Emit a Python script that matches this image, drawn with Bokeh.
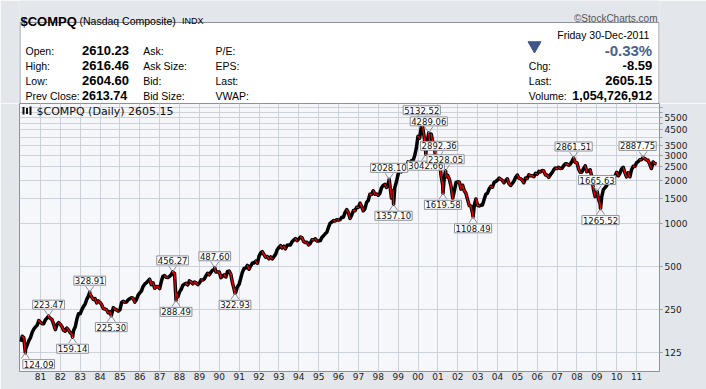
import numpy as np
import pandas as pd
from bokeh.plotting import figure
from bokeh.models import Range1d, FixedTicker, Label
from bokeh.layouts import column
from bokeh.embed import file_html
from bokeh.resources import INLINE

# ---------------- data (monthly closes) ----------------
c1980 = [161.75, 158.03, 131.00, 139.99, 150.45, 157.78, 171.81, 181.52, 187.76, 192.78, 208.15, 202.34]
c1981 = [197.81, 198.01, 210.18, 216.74, 221.80, 215.75, 211.63, 195.75, 180.03, 195.24, 201.37, 195.84]
c1982 = [188.39, 178.35, 175.65, 184.70, 178.54, 171.30, 167.35, 177.71, 187.65, 212.63, 232.31, 232.41]
c1983 = [248.35, 260.67, 270.80, 293.06, 308.73, 318.70, 303.96, 292.42, 296.65, 276.95, 285.67, 278.60]
c1984 = [268.43, 252.57, 250.78, 247.44, 235.90, 239.65, 230.49, 255.94, 249.94, 247.03, 242.53, 247.35]
c1985 = [278.70, 284.17, 279.20, 280.56, 290.80, 296.20, 301.29, 297.71, 280.33, 292.54, 313.95, 324.93]
c1986 = [335.77, 359.53, 374.72, 383.24, 394.41, 405.51, 371.37, 382.86, 350.67, 360.77, 359.57, 348.83]
c1987 = [392.06, 424.97, 430.05, 417.81, 416.54, 424.67, 434.93, 454.57, 444.29, 323.30, 305.16, 330.47]
c1988 = [344.66, 366.95, 374.64, 379.23, 370.34, 394.66, 387.33, 376.55, 387.71, 382.46, 371.45, 381.38]
c1989 = [401.30, 399.71, 406.73, 427.55, 446.17, 435.29, 453.84, 469.33, 472.92, 455.63, 456.09, 454.82]
c1990 = [415.81, 425.83, 435.54, 420.07, 458.97, 462.29, 438.24, 381.21, 344.51, 329.84, 359.06, 373.84]
c1991 = [414.20, 453.05, 482.30, 484.72, 506.11, 475.92, 502.04, 525.68, 526.88, 542.98, 523.90, 586.34]
c1992 = [620.21, 633.47, 603.77, 578.68, 585.31, 563.60, 580.83, 563.12, 583.27, 605.17, 652.73, 676.95]
c1993 = [696.34, 670.77, 690.13, 661.42, 700.53, 703.95, 704.70, 742.84, 762.78, 779.26, 754.39, 776.80]
c1994 = [800.47, 792.50, 743.46, 733.84, 735.19, 705.96, 722.16, 765.62, 764.29, 777.49, 750.32, 751.96]
c1995 = [755.20, 793.73, 817.21, 843.98, 864.58, 933.45, 1001.21, 1020.11, 1043.54, 1036.06, 1059.20, 1052.13]
c1996 = [1059.79, 1100.05, 1101.40, 1190.52, 1243.43, 1185.02, 1080.59, 1141.50, 1226.92, 1221.51, 1292.61, 1291.03]
c1997 = [1379.85, 1309.00, 1221.70, 1260.76, 1400.32, 1442.07, 1593.81, 1587.32, 1685.69, 1593.61, 1600.55, 1570.35]
c1998 = [1619.36, 1770.51, 1835.68, 1868.41, 1778.87, 1894.74, 1872.39, 1499.25, 1693.84, 1771.39, 1949.54, 2192.69]
c1999 = [2505.89, 2288.03, 2461.40, 2542.85, 2470.52, 2686.12, 2638.49, 2739.35, 2746.16, 2966.43, 3336.16, 4069.31]
c2000 = [3940.35, 4696.69, 4572.83, 3860.66, 3400.91, 3966.11, 3766.99, 4206.35, 3672.82, 3369.63, 2597.93, 2470.52]
c2001 = [2772.73, 2151.83, 1840.26, 2116.24, 2110.49, 2160.54, 2027.13, 1805.43, 1498.80, 1690.20, 1930.58, 1950.40]
c2002 = [1934.03, 1731.49, 1845.35, 1688.23, 1615.73, 1463.21, 1328.26, 1314.85, 1172.06, 1329.75, 1478.78, 1335.51]
c2003 = [1320.91, 1337.52, 1341.17, 1464.31, 1595.91, 1622.80, 1735.02, 1810.45, 1786.94, 1932.21, 1960.26, 2003.37]
c2004 = [2066.15, 2029.82, 1994.22, 1920.15, 1986.74, 2047.79, 1887.36, 1838.10, 1896.84, 1974.99, 2096.81, 2175.44]
c2005 = [2062.41, 2051.72, 1999.23, 1921.65, 2068.22, 2056.96, 2184.83, 2152.09, 2151.69, 2120.30, 2232.82, 2205.32]
c2006 = [2305.82, 2281.39, 2339.79, 2322.57, 2178.88, 2172.09, 2091.47, 2183.75, 2258.43, 2366.71, 2431.77, 2415.29]
c2007 = [2463.93, 2416.15, 2421.64, 2525.09, 2604.52, 2603.23, 2546.27, 2596.36, 2701.50, 2859.12, 2660.96, 2652.28]
c2008 = [2389.86, 2271.48, 2279.10, 2412.80, 2522.66, 2292.98, 2325.55, 2367.52, 2091.88, 1720.95, 1535.57, 1577.03]
c2009 = [1476.42, 1377.84, 1528.59, 1717.30, 1774.33, 1835.04, 1978.50, 2009.06, 2122.42, 2045.11, 2144.60, 2269.15]
c2010 = [2147.35, 2238.26, 2397.96, 2461.19, 2257.04, 2109.24, 2254.70, 2114.03, 2368.62, 2507.41, 2498.23, 2652.87]
c2011 = [2700.08, 2782.27, 2781.07, 2873.54, 2835.30, 2773.52, 2756.38, 2579.46, 2415.40, 2684.41, 2620.34, 2605.15]
monthly = [c1980, c1981, c1982, c1983, c1984, c1985, c1986, c1987, c1988, c1989, c1990,
           c1991, c1992, c1993, c1994, c1995, c1996, c1997, c1998, c1999, c2000, c2001,
           c2002, c2003, c2004, c2005, c2006, c2007, c2008, c2009, c2010, c2011]
first_year = 1980
start_date, start_value = "1980-01-02", 148.17

# annotated highs / lows
ext_dates = ["1980-03-27", "1981-05-29", "1982-08-13", "1983-06-24", "1984-07-25",
             "1987-08-26", "1987-10-28", "1989-10-09", "1990-10-16", "1998-07-20",
             "1998-10-08", "2000-03-10", "2000-05-24", "2000-07-17", "2001-01-24",
             "2001-04-04", "2001-05-22", "2002-10-09", "2007-10-31", "2009-01-06",
             "2009-03-09", "2011-04-29"]
ext_values = [124.09, 223.47, 159.14, 328.91, 225.30, 456.27, 288.49, 487.60, 322.93, 2028.10,
              1357.10, 5132.52, 3042.66, 4289.06, 2892.36, 1619.58, 2328.05, 1108.49,
              2861.51, 1665.63, 1265.52, 2887.75]
ext_kind = ["L", "H", "L", "H", "L", "H", "L", "H", "L", "H", "L", "H", "L", "H", "H",
            "L", "H", "L", "H", "H", "L", "H"]

# quote panel
left_labels = ["Open:", "High:", "Low:", "Prev Close:"]
left_values = ["2610.23", "2616.46", "2604.60", "2613.74"]
mid_labels = ["Ask:", "Ask Size:", "Bid:", "Bid Size:"]
pe_labels = ["P/E:", "EPS:", "Last:", "VWAP:"]
right_labels = ["Chg:", "Last:", "Volume:"]
right_values = ["-8.59", "2605.15", "1,054,726,912"]
quote_date = "Friday  30-Dec-2011"
pct_change = "-0.33%"

# axes
year_ticks = list(range(1981, 2012))
year_labels = ["%02d" % (y % 100) for y in year_ticks]
y_ticks = [125, 250, 500, 1000, 1500, 2000, 2500, 3000, 3500, 4000, 4500, 5000, 5500, 6000, 6500]
y_shown = [125, 250, 500, 1000, 1500, 2000, 2500, 3000, 3500, 4500, 5500]

# ---------------- build series ----------------
dates, vals, is_ext = [pd.Timestamp(start_date)], [start_value], [False]
for i, arr in enumerate(monthly):
    yr = first_year + i
    for m, val in enumerate(arr, start=1):
        dates.append(pd.Timestamp(yr, m, 1) + pd.offsets.MonthEnd(0))
        vals.append(val)
        is_ext.append(False)
for d, v in zip(ext_dates, ext_values):
    dates.append(pd.Timestamp(d)); vals.append(v); is_ext.append(True)

df = pd.DataFrame({"d": dates, "v": vals, "e": is_ext})
df = df.sort_values(["d", "e"], ascending=[True, False]).drop_duplicates("d", keep="first")
df = df.sort_values("d").reset_index(drop=True)


def frac_year(ts):
    ts = pd.DatetimeIndex(ts)
    days = np.where(ts.is_leap_year, 366.0, 365.0)
    return np.asarray(ts.year + (ts.dayofyear - 1) / days, dtype=float)


t = frac_year(df["d"])
v = df["v"].to_numpy(dtype=float)
et = frac_year(ext_dates)
ev = np.array(ext_values)

# ---------------- styling ----------------
BG = "#e3e6eb"
PLOT_BG = "#f5f7fa"
GRID = "#cdd1d9"
FRAME = "#8c9098"
RED = "#ee0000"
SANS = "Liberation Sans"
AX = "DejaVu Sans"

W = 706
TOP_H = 103
BOT_H = 286
FR_L, FR_R = 19, 659          # frame left / right (px)
FR_W = FR_R - FR_L
FR_H = 268


def txt(fig, x, y, s, size, bold=False, color="#000000", align="left",
        font=SANS, baseline="alphabetic"):
    fig.add_layout(Label(x=x, y=y, text=s, text_font=font, text_font_size="%spx" % size,
                         text_font_style="bold" if bold else "normal", text_color=color,
                         text_align=align, text_baseline=baseline))


# ---------------- header / quote panel (pixel coordinates) ----------------
top = figure(width=W, height=TOP_H, x_range=Range1d(FR_L, FR_R), y_range=Range1d(TOP_H, 0),
             x_axis_location=None, y_axis_location=None, toolbar_location=None,
             output_backend="svg", min_border_left=FR_L, min_border_right=W - FR_R,
             min_border_top=0, min_border_bottom=0, background_fill_color=BG,
             border_fill_color=BG, outline_line_color=None)
top.grid.visible = False
top.quad(left=FR_L + 0.5, right=FR_R - 0.5, top=22, bottom=TOP_H + 2,
         fill_color="white", line_color=FRAME)

txt(top, 20, 20.7, "$COMPQ", 13, bold=True)
txt(top, 79, 20.7, "(Nasdaq Composite)", 10.5)
txt(top, 181.5, 20.7, "INDX", 9)
txt(top, 657, 18.3, "\u00a9StockCharts.com", 10, color="#555555", align="right")

rows_y = [50.2, 65.2, 80.2, 95.0]
val_size = [13, 13, 13, 12.5]
for i in range(4):
    txt(top, 25, rows_y[i], left_labels[i], 10.5)
    txt(top, 81.5, rows_y[i], left_values[i], val_size[i], bold=True)
    txt(top, 142.7, rows_y[i], mid_labels[i], 10.5)
    txt(top, 215, rows_y[i], pe_labels[i], 10.5)

txt(top, 651.7, 34.5, quote_date, 10.5, align="right")
top.scatter(x=[534], y=[45], marker="inverted_triangle", size=13,
            fill_color="#3f5687", line_color="#3f5687")
txt(top, 651.7, rows_y[0], pct_change, 15, bold=True, color="#4a5f8c", align="right")
for i in range(3):
    txt(top, 528.3, rows_y[i + 1], right_labels[i], 10.5)
    txt(top, 651.7, rows_y[i + 1], right_values[i], val_size[i + 1], bold=True, align="right")

# ---------------- chart ----------------
X0, X1 = 1979.943, 2012.152
Y0, Y1 = 91.6, 6888.0
ppx = FR_W / (X1 - X0)                     # px per year
pxl = FR_H / np.log2(Y1 / Y0)              # px per doubling

p = figure(width=W, height=BOT_H, x_range=Range1d(X0, X1), y_range=Range1d(Y0, Y1),
           y_axis_type="log", y_axis_location="right", toolbar_location=None,
           output_backend="svg", min_border_left=FR_L, min_border_right=W - FR_R,
           min_border_top=0, min_border_bottom=BOT_H - FR_H, background_fill_color=PLOT_BG,
           border_fill_color=BG, outline_line_color=FRAME)

p.xaxis.ticker = FixedTicker(ticks=year_ticks)
p.xaxis.major_label_overrides = {y: lab for y, lab in zip(year_ticks, year_labels)}
p.xaxis.axis_line_color = None
p.xaxis.major_tick_line_color = None
p.xaxis.minor_tick_line_color = None
p.xaxis.major_tick_out = 0
p.xaxis.major_label_standoff = 1
p.xaxis.major_label_text_font = AX
p.xaxis.major_label_text_font_size = "9px"
p.xaxis.major_label_text_color = "#222222"

p.yaxis.ticker = FixedTicker(ticks=y_ticks)
p.yaxis.major_label_overrides = {tk: (str(tk) if tk in y_shown else "") for tk in y_ticks}
p.yaxis.axis_line_color = "#9a9ea6"
p.yaxis.axis_line_dash = "1 2"
p.yaxis.major_tick_out = 3
p.yaxis.major_tick_in = 0
p.yaxis.major_tick_line_color = "#9a9ea6"
p.yaxis.minor_tick_line_color = None
p.yaxis.major_label_standoff = 2
p.yaxis.major_label_text_font = AX
p.yaxis.major_label_text_font_size = "9px"
p.yaxis.major_label_text_color = "#222222"

p.xgrid.grid_line_color = GRID
p.ygrid.grid_line_color = GRID

# price band
p.line(t, v, line_color="black", line_width=3.5, line_join="round")
down = v[1:] < v[:-1]
p.segment(x0=t[:-1][down], y0=v[:-1][down], x1=t[1:][down], y1=v[1:][down],
          line_color=RED, line_width=1.4, line_cap="round")

# high / low callouts
dx = 4.0 / ppx
gap = 6.0
for x, y, k in zip(et, ev, ext_kind):
    sgn = 1 if k == "H" else -1
    yb = y * 2 ** (sgn * gap / pxl)
    p.segment(x0=[x - dx, x + dx], y0=[yb, yb], x1=[x, x], y1=[y, y],
              line_color="#8c9098", line_width=1)
    s = "%.2f" % y
    half_w = len(s) * 2.7 + 2
    xpix = (x - X0) * ppx
    xoff = max(0.0, half_w + 1 - xpix) - max(0.0, xpix + half_w + 1 - FR_W)
    p.add_layout(Label(x=x, y=y, text=s, text_align="center",
                       text_baseline="bottom" if k == "H" else "top",
                       x_offset=xoff, y_offset=sgn * (gap + 1), text_font=AX,
                       text_font_size="8.5px", text_color="#111111",
                       background_fill_color="white", border_line_color="#8c9098",
                       padding=1))

# small chart icon + inner chart title
ix = X0 + np.array([4.0, 7.5, 11.0]) / ppx
iy_top = Y1 / 2 ** (np.array([3.5, 4.5, 3.0]) / pxl)
iy_bot = Y1 / 2 ** (np.array([11.0, 10.5, 11.5]) / pxl)
p.segment(x0=ix, y0=iy_bot, x1=ix, y1=iy_top, line_color="#111111", line_width=2)
p.add_layout(Label(x=X0 + 17 / ppx, y=Y1 / 2 ** (7.5 / pxl),
                   text="$COMPQ (Daily) 2605.15", text_font=AX, text_font_size="11px",
                   text_color="#111111", text_baseline="middle", text_align="left"))

layout = column(top, p, spacing=0)
open("out.html", "w").write(file_html(layout, INLINE))
